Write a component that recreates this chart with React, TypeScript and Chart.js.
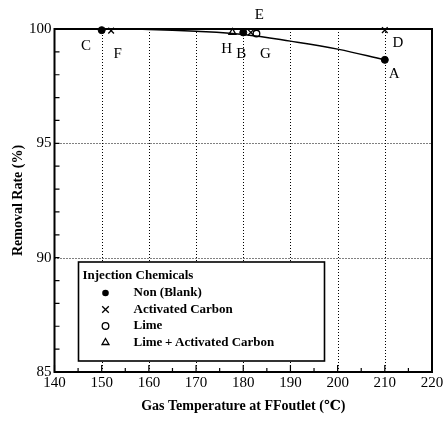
import React, { useEffect, useRef } from "react";
import { Chart, registerables } from "chart.js";

Chart.register(...registerables);

const xTicks = [140, 150, 160, 170, 180, 190, 200, 210, 220];
const yTicks = [85, 90, 95, 100];

const curveX = [150, 160, 170, 180, 190, 200, 210];
const curveY = [100, 99.98, 99.9, 99.76, 99.47, 99.12, 98.65];

const blankX = [150, 180, 210];
const blankY = [99.95, 99.85, 98.65];
const carbonX = [152, 181.6, 210];
const carbonY = [99.93, 99.85, 99.95];
const limeX = [182.8];
const limeY = [99.8];
const limeCarbonX = [177.7];
const limeCarbonY = [99.85];

const pointLabels = ["C", "F", "H", "B", "G", "E", "D", "A"];
const labelX = [146.7, 153.4, 176.5, 179.6, 184.7, 183.4, 212.8, 212];
const labelY = [99.25, 98.9, 99.12, 98.9, 98.9, 100.6, 99.4, 98.03];

const legendTitle = "Injection Chemicals";
const legendNames = ["Non (Blank)", "Activated Carbon", "Lime", "Lime\u2009+\u2009Activated Carbon"];
const legendMarkers = ["dot", "cross", "ring", "tri"];

const FONT = "'Liberation Serif', 'DejaVu Serif', serif";

function drawMarker(ctx: CanvasRenderingContext2D, kind: string, x: number, y: number) {
  ctx.save();
  ctx.strokeStyle = "#000";
  ctx.fillStyle = "#000";
  ctx.lineWidth = 1.3;
  ctx.beginPath();
  if (kind === "dot") {
    ctx.arc(x, y, 3.3, 0, Math.PI * 2);
    ctx.fill();
  } else if (kind === "cross") {
    const r = 3.3;
    ctx.moveTo(x - r, y - r);
    ctx.lineTo(x + r, y + r);
    ctx.moveTo(x + r, y - r);
    ctx.lineTo(x - r, y + r);
    ctx.stroke();
  } else if (kind === "ring") {
    ctx.arc(x, y, 3.3, 0, Math.PI * 2);
    ctx.stroke();
  } else {
    const r = 4;
    ctx.moveTo(x, y - r);
    ctx.lineTo(x + r * 0.87, y + r * 0.5);
    ctx.lineTo(x - r * 0.87, y + r * 0.5);
    ctx.closePath();
    ctx.stroke();
  }
  ctx.restore();
}

const framePlugin = {
  id: "frame",
  beforeDatasetsDraw(chart: any) {
    const ctx: CanvasRenderingContext2D = chart.ctx;
    const xs = chart.scales.x;
    const ys = chart.scales.y;
    const { left, right, top, bottom } = chart.chartArea;
    ctx.save();
    ctx.strokeStyle = "#000";
    ctx.lineWidth = 1;
    ctx.setLineDash([1, 2]);
    ctx.beginPath();
    for (const v of xTicks) {
      if (v === 140 || v === 220) continue;
      const px = Math.round(xs.getPixelForValue(v)) + 0.5;
      ctx.moveTo(px, top);
      ctx.lineTo(px, bottom);
    }
    for (const v of yTicks) {
      if (v === 85 || v === 100) continue;
      const py = Math.round(ys.getPixelForValue(v)) + 0.5;
      ctx.moveTo(left, py);
      ctx.lineTo(right, py);
    }
    ctx.stroke();
    ctx.restore();
  },
  afterDraw(chart: any) {
    const ctx: CanvasRenderingContext2D = chart.ctx;
    const xs = chart.scales.x;
    const ys = chart.scales.y;
    const { left, right, top, bottom } = chart.chartArea;
    ctx.save();
    // inward ticks
    ctx.strokeStyle = "#000";
    ctx.lineWidth = 1.2;
    ctx.beginPath();
    for (let v = 140; v <= 220; v += 5) {
      const px = xs.getPixelForValue(v);
      const len = v % 10 === 0 ? 7 : 4;
      ctx.moveTo(px, bottom);
      ctx.lineTo(px, bottom - len);
    }
    for (let v = 85; v <= 100; v += 1) {
      const py = ys.getPixelForValue(v);
      ctx.moveTo(left, py);
      ctx.lineTo(left + 5, py);
    }
    ctx.stroke();
    // frame
    ctx.lineWidth = 2;
    ctx.strokeRect(left, top, right - left, bottom - top);

    // point labels
    ctx.fillStyle = "#000";
    ctx.font = `15px ${FONT}`;
    ctx.textAlign = "center";
    ctx.textBaseline = "middle";
    pointLabels.forEach((t, i) => {
      ctx.fillText(t, xs.getPixelForValue(labelX[i]), ys.getPixelForValue(labelY[i]));
    });

    // legend box
    const bx = left + 24, by = top + 233, bw = 246, bh = 99;
    ctx.fillStyle = "#fff";
    ctx.fillRect(bx, by, bw, bh);
    ctx.lineWidth = 1.6;
    ctx.strokeStyle = "#000";
    ctx.strokeRect(bx, by, bw, bh);
    ctx.fillStyle = "#000";
    ctx.textAlign = "left";
    ctx.font = `bold 13px ${FONT}`;
    ctx.fillText(legendTitle, bx + 4, by + 14);
    legendNames.forEach((n, i) => {
      const yy = by + 31 + i * 16.5;
      drawMarker(ctx, legendMarkers[i], bx + 27, yy);
      ctx.fillText(n, bx + 55, yy);
    });
    ctx.restore();
  },
};

export default function App() {
  const ref = useRef<HTMLCanvasElement | null>(null);
  useEffect(() => {
    document.body.style.margin = "0";
    const ctxEl = ref.current!;
    const mk = (xs: number[], ys: number[]) => xs.map((x, i) => ({ x, y: ys[i] }));
    const chart = new Chart(ctxEl, {
      type: "scatter",
      data: {
        datasets: [
          {
            type: "line",
            data: mk(curveX, curveY),
            borderColor: "#000",
            borderWidth: 1.5,
            pointRadius: 0,
            tension: 0.4,
            fill: false,
          } as any,
          {
            label: legendNames[0],
            data: mk(blankX, blankY),
            pointStyle: "circle",
            pointRadius: 3.5,
            backgroundColor: "#000",
            borderColor: "#000",
          },
          {
            label: legendNames[1],
            data: mk(carbonX, carbonY),
            pointStyle: "crossRot",
            pointRadius: 4,
            borderWidth: 1.3,
            borderColor: "#000",
          },
          {
            label: legendNames[2],
            data: mk(limeX, limeY),
            pointStyle: "circle",
            pointRadius: 3.3,
            borderWidth: 1.3,
            backgroundColor: "#fff",
            borderColor: "#000",
          },
          {
            label: legendNames[3],
            data: mk(limeCarbonX, limeCarbonY),
            pointStyle: "triangle",
            pointRadius: 4,
            borderWidth: 1.3,
            backgroundColor: "#fff",
            borderColor: "#000",
          },
        ],
      },
      options: {
        animation: false,
        responsive: false,
        clip: false as any,
        layout: { padding: { top: 29, right: 14, left: 0, bottom: 0 } },
        plugins: { legend: { display: false }, tooltip: { enabled: false } },
        scales: {
          x: {
            type: "linear",
            min: 140,
            max: 220,
            afterBuildTicks: (s: any) => {
              s.ticks = xTicks.map((v) => ({ value: v }));
            },
            afterFit: (s: any) => {
              s.height = 66;
            },
            ticks: {
              color: "#000",
              font: { family: FONT, size: 15 },
              padding: 2,
              maxRotation: 0,
            },
            grid: { display: false, drawTicks: false, tickLength: 0 },
            border: { display: false },
            title: {
              display: true,
              text: "Gas Temperature at FFoutlet (\u2103)",
              color: "#000",
              font: { family: FONT, size: 14, weight: "bold" },
              padding: { top: 4, bottom: 23 },
            },
          },
          y: {
            type: "linear",
            min: 85,
            max: 100,
            afterBuildTicks: (s: any) => {
              s.ticks = yTicks.map((v) => ({ value: v }));
            },
            afterFit: (s: any) => {
              s.width = 54.5;
            },
            ticks: {
              color: "#000",
              font: { family: FONT, size: 15 },
              padding: 3,
            },
            grid: { display: false, drawTicks: false, tickLength: 0 },
            border: { display: false },
            title: {
              display: true,
              text: "Removal Rate (%)",
              color: "#000",
              font: { family: FONT, size: 14, weight: "bold" },
              padding: { top: 10, bottom: 4 },
            },
          },
        },
      },
      plugins: [framePlugin],
    });
    return () => chart.destroy();
  }, []);
  return (
    <div style={{ width: 446, height: 438 }}>
      <canvas ref={ref} width={446} height={438} style={{ display: "block" }} />
    </div>
  );
}
